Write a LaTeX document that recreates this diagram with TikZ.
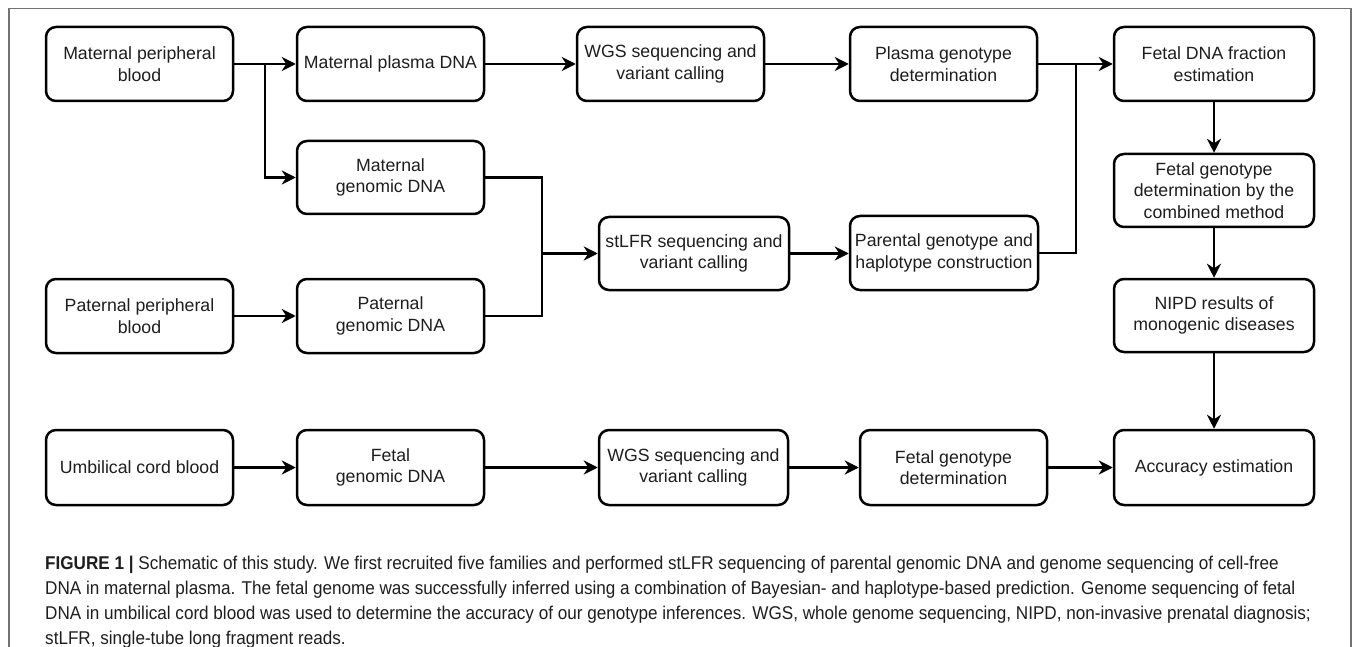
\documentclass[tikz,border=0pt]{standalone}
\usepackage{fontspec}
\setmainfont{Liberation Sans}
\newfontfamily\capfont[FakeStretch=0.925]{Liberation Sans}
\usetikzlibrary{arrows.meta}
\definecolor{ink}{HTML}{1E1E1E}
\begin{document}
\begin{tikzpicture}[x=1pt,y=-1pt,
  box/.style={draw=black, line width=2.5pt, rounded corners=10pt, minimum width=187pt, minimum height=74pt, inner sep=0pt, align=center, font=\fontsize{17.7}{21.6}\selectfont, text=ink},
  wide/.style={minimum width=200pt},
  link/.style={line width=2.4pt, -{Stealth[length=14pt,width=14pt,inset=4.5pt]}},
  plain/.style={line width=2.4pt},
  captext/.style={anchor=base west, inner sep=0pt, text=ink, font=\capfont\fontsize{18.5}{22}\selectfont}]
\useasboundingbox (0,0) rectangle (1355,647);
\fill[white] (0,0) rectangle (1355,647);
\draw[black!55, line width=1.2pt] (9,647) -- (9,8.5) -- (1351,8.5) -- (1351,647);
% row 1
\node[box] (mpb) at (139.5,64) {Maternal peripheral\\blood};
\node[box] (mpd) at (390.5,64) {Maternal plasma DNA};
\node[box] (wgs1) at (670.5,64) {WGS sequencing and\\variant calling};
\node[box] (pgd) at (943.5,64) {Plasma genotype\\determination};
\node[box, wide] (ffe) at (1214,64) {Fetal DNA fraction\\estimation};
% middle
\node[box, minimum height=73pt] (mgd) at (390.5,177.5) {Maternal\\genomic DNA};
\node[box] (ppb) at (139.5,316) {Paternal peripheral\\blood};
\node[box] (pgn) at (390.5,316) {Paternal\\genomic DNA};
\node[box, minimum width=190pt, minimum height=73pt] (stl) at (694,253.5) {stLFR sequencing and\\variant calling};
\node[box, minimum width=188pt] (par) at (944,253) {Parental genotype and\\haplotype construction};
\node[box, wide, minimum height=73pt] (fgc) at (1214,190.5) {Fetal genotype\\determination by the\\combined method};
\node[box, wide, minimum height=73pt] (nip) at (1214,315.5) {NIPD results of\\monogenic diseases};
% bottom row
\node[box, minimum height=75pt] (ucb) at (139.5,467.5) {Umbilical cord blood};
\node[box, minimum height=75pt] (fgd) at (390.5,467.5) {Fetal\\genomic DNA};
\node[box, minimum width=189pt, minimum height=75pt] (wgs2) at (693.5,467.5) {WGS sequencing and\\variant calling};
\node[box, minimum height=75pt] (fgt) at (953.5,467.5) {Fetal genotype\\determination};
\node[box, wide, minimum height=75pt] (acc) at (1214,467.5) {Accuracy estimation};
% junctions
\coordinate (j1) at (265,64);
\coordinate (j2) at (1076,64);
\coordinate (j3) at (542,253.5);
% connectors
\draw[link] (mpb.east) -- (mpd.west);
\draw[link] (j1) |- (mgd.west);
\draw[link] (mpd.east) -- (wgs1.west);
\draw[link] (wgs1.east) -- (pgd.west);
\draw[link] (pgd.east) -- (ffe.west);
\draw[plain] (par.east) -| (j2);
\draw[plain] (mgd.east) -| (j3);
\draw[plain] (pgn.east) -| (j3);
\draw[link] (j3) -- (stl.west);
\draw[link] (stl.east) -- (par.west |- stl.east);
\draw[link] (ppb.east) -- (pgn.west);
\draw[link] (ffe.south) -- (fgc.north);
\draw[link] (fgc.south) -- (nip.north);
\draw[link] (nip.south) -- (acc.north);
\draw[link] (ucb.east) -- (fgd.west);
\draw[link] (fgd.east) -- (wgs2.west);
\draw[link] (wgs2.east) -- (fgt.west);
\draw[link] (fgt.east) -- (acc.west);
% caption
\node[captext] (cap1) at (45,569.5) {\textbf{FIGURE 1 |} Schematic of this study. We first recruited five families and performed stLFR sequencing of parental genomic DNA and genome sequencing of cell-free};
\node[captext] (cap2) at (45,594.5) {DNA in maternal plasma. The fetal genome was successfully inferred using a combination of Bayesian- and haplotype-based prediction. Genome sequencing of fetal};
\node[captext] (cap3) at (45,619.5) {DNA in umbilical cord blood was used to determine the accuracy of our genotype inferences. WGS, whole genome sequencing, NIPD, non-invasive prenatal diagnosis;};
\node[captext] (cap4) at (45,644) {stLFR, single-tube long fragment reads.};
\end{tikzpicture}
\end{document}
